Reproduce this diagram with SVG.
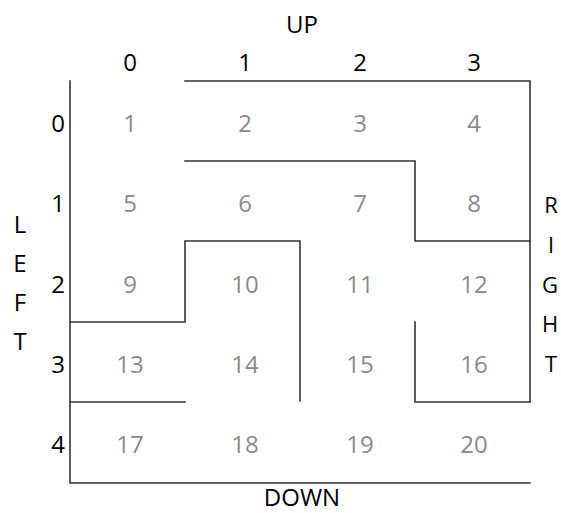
<svg xmlns="http://www.w3.org/2000/svg" width="561" height="513" viewBox="0 0 561 513">
<style>
text{font-family:"Open Sans","Noto Sans","Liberation Sans",sans-serif;font-size:24px;text-anchor:middle}
.lbl{fill:#000}
.num{fill:#8a8a8a}
.side{font-size:22px}
.wall{stroke:#333;stroke-width:1.6;fill:none;stroke-linecap:square}
</style>
<rect width="561" height="513" fill="#fff"/>
<g id="labels">
<text class="lbl" x="302" y="33">UP</text>
<text class="lbl" x="302" y="506">DOWN</text>
<text class="lbl" x="130" y="71">0</text>
<text class="lbl" x="245" y="71">1</text>
<text class="lbl" x="360" y="71">2</text>
<text class="lbl" x="474" y="71">3</text>
<text class="lbl" x="58" y="132">0</text>
<text class="lbl" x="58" y="212">1</text>
<text class="lbl" x="58" y="293">2</text>
<text class="lbl" x="58" y="373">3</text>
<text class="lbl" x="58" y="453">4</text>
<text class="lbl" x="20" y="233">L</text>
<text class="lbl" x="20" y="272">E</text>
<text class="lbl" x="20" y="311">F</text>
<text class="lbl" x="20" y="350">T</text>
<text class="lbl side" x="551" y="213">R</text>
<text class="lbl side" x="551" y="253">I</text>
<text class="lbl side" x="550" y="293">G</text>
<text class="lbl side" x="550" y="332">H</text>
<text class="lbl side" x="551" y="372">T</text>
</g>
<g id="cells">
<g id="c1"><text class="num" x="130" y="132">1</text></g>
<g id="c2"><text class="num" x="245" y="132">2</text></g>
<g id="c3"><text class="num" x="360" y="132">3</text></g>
<g id="c4"><text class="num" x="474" y="132">4</text></g>
<g id="c5"><text class="num" x="130" y="212">5</text></g>
<g id="c6"><text class="num" x="245" y="212">6</text></g>
<g id="c7"><text class="num" x="360" y="212">7</text></g>
<g id="c8"><text class="num" x="474" y="212">8</text></g>
<g id="c9"><text class="num" x="130" y="293">9</text></g>
<g id="c10"><text class="num" x="245" y="293">10</text></g>
<g id="c11"><text class="num" x="360" y="293">11</text></g>
<g id="c12"><text class="num" x="474" y="293">12</text></g>
<g id="c13"><text class="num" x="130" y="373">13</text></g>
<g id="c14"><text class="num" x="245" y="373">14</text></g>
<g id="c15"><text class="num" x="360" y="373">15</text></g>
<g id="c16"><text class="num" x="474" y="373">16</text></g>
<g id="c17"><text class="num" x="130" y="453">17</text></g>
<g id="c18"><text class="num" x="245" y="453">18</text></g>
<g id="c19"><text class="num" x="360" y="453">19</text></g>
<g id="c20"><text class="num" x="474" y="453">20</text></g>
</g>
<g id="walls" class="wall">
<path d="M70 81 V483 H530"/>
<path d="M185 81 H530 V402"/>
<path d="M185 161 H415 V241 H530"/>
<path d="M300 401 V241 H185 V322 H70"/>
<path d="M70 402 H185"/>
<path d="M415 322 V402 H530"/>
</g>
</svg>
